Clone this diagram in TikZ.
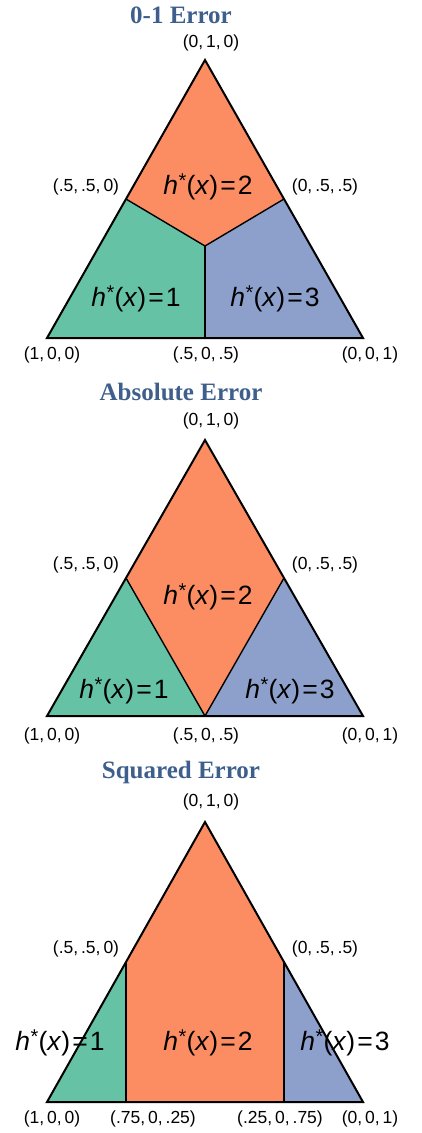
\documentclass[tikz,border=0pt]{standalone}
\usepackage{fontspec}
\setmainfont{Liberation Sans}
\newfontfamily\titlefont{Liberation Serif}
\definecolor{sgreen}{HTML}{66C2A5}
\definecolor{sorange}{HTML}{FC8D62}
\definecolor{sblue}{HTML}{8DA0CB}
\definecolor{ttl}{HTML}{3E5F8C}
\newcommand{\hx}[1]{\textit{h}\hspace{0.02em}\raisebox{0.26em}{\fontsize{20}{20}\selectfont *}\hspace{0.01em}(\textit{x})\hspace{0.08em}=\hspace{0.08em}#1}
\begin{document}
\begin{tikzpicture}[x=1pt,y=-1pt,
  region/.style={draw=black,line width=1.4pt,line join=round},
  outline/.style={draw=black,line width=2pt,line join=miter},
  corner/.style={font=\fontsize{17.5}{18}\selectfont,inner sep=0pt},
  hlab/.style={font=\fontsize{26.5}{27}\selectfont,inner sep=0pt},
  ttlstyle/.style={font=\titlefont\bfseries\fontsize{25}{26}\selectfont,text=ttl,inner sep=0pt}]
\useasboundingbox (0,0) rectangle (422,1133);

% ---------- 0-1 Error ----------
\node[ttlstyle] (t1) at (181,15) {0-1 Error};
\coordinate (A1) at (205,60);
\coordinate (L1) at (47,338);
\coordinate (R1) at (363,338);
\coordinate (ML1) at (126,199);
\coordinate (MR1) at (284,199);
\coordinate (MB1) at (205,338);
\coordinate (C1) at (205,246);
\fill[sorange] (A1) -- (MR1) -- (C1) -- (ML1) -- cycle;
\fill[sgreen] (ML1) -- (C1) -- (MB1) -- (L1) -- cycle;
\fill[sblue] (MR1) -- (C1) -- (MB1) -- (R1) -- cycle;
\draw[region] (ML1) -- (C1) -- (MR1);
\draw[region] (C1) -- (MB1);
\draw[outline] (A1) -- (R1) -- (L1) -- cycle;
\node[corner] (a1) at (211,43) {(0,\,1,\,0)};
\node[corner] (ml1) at (86,187) {(.5,\,.5,\,0)};
\node[corner] (mr1) at (325,187) {(0,\,.5,\,.5)};
\node[corner] (l1) at (52,355) {(1,\,0,\,0)};
\node[corner] (mb1) at (206,355) {(.5,\,0,\,.5)};
\node[corner] (r1) at (370,355) {(0,\,0,\,1)};
\node[hlab] (h12) at (208,187) {\hx{2}};
\node[hlab] (h11) at (136,299) {\hx{1}};
\node[hlab] (h13) at (275,299) {\hx{3}};

% ---------- Absolute Error ----------
\node[ttlstyle] (t2) at (181,392) {Absolute Error};
\coordinate (A2) at (205,440);
\coordinate (L2) at (47,716);
\coordinate (R2) at (363,716);
\coordinate (ML2) at (126,578);
\coordinate (MR2) at (284,578);
\coordinate (MB2) at (205,716);
\fill[sorange] (A2) -- (MR2) -- (MB2) -- (ML2) -- cycle;
\fill[sgreen] (ML2) -- (MB2) -- (L2) -- cycle;
\fill[sblue] (MR2) -- (MB2) -- (R2) -- cycle;
\draw[region] (ML2) -- (MB2) -- (MR2);
\draw[outline] (A2) -- (R2) -- (L2) -- cycle;
\node[corner] (a2) at (211,421) {(0,\,1,\,0)};
\node[corner] (ml2) at (86,565) {(.5,\,.5,\,0)};
\node[corner] (mr2) at (325,565) {(0,\,.5,\,.5)};
\node[corner] (l2) at (52,736) {(1,\,0,\,0)};
\node[corner] (mb2) at (206,736) {(.5,\,0,\,.5)};
\node[corner] (r2) at (370,736) {(0,\,0,\,1)};
\node[hlab] (h22) at (208,597) {\hx{2}};
\node[hlab] (h21) at (124,691) {\hx{1}};
\node[hlab] (h23) at (290,691) {\hx{3}};

% ---------- Squared Error ----------
\node[ttlstyle] (t3) at (181,772) {Squared Error};
\coordinate (A3) at (205,822);
\coordinate (L3) at (47,1102);
\coordinate (R3) at (363,1102);
\coordinate (ML3) at (126,962);
\coordinate (MR3) at (284,962);
\coordinate (BL3) at (126,1102);
\coordinate (BR3) at (284,1102);
\fill[sorange] (A3) -- (MR3) -- (BR3) -- (BL3) -- (ML3) -- cycle;
\fill[sgreen] (ML3) -- (BL3) -- (L3) -- cycle;
\fill[sblue] (MR3) -- (BR3) -- (R3) -- cycle;
\draw[region] (ML3) -- (BL3);
\draw[region] (MR3) -- (BR3);
\draw[outline] (A3) -- (R3) -- (L3) -- cycle;
\node[corner] (a3) at (211,802) {(0,\,1,\,0)};
\node[corner] (ml3) at (86,949) {(.5,\,.5,\,0)};
\node[corner] (mr3) at (325,949) {(0,\,.5,\,.5)};
\node[corner] (l3) at (52,1119) {(1,\,0,\,0)};
\node[corner] (bl3) at (153,1119) {(.75,\,0,\,.25)};
\node[corner] (br3) at (280,1119) {(.25,\,0,\,.75)};
\node[corner] (r3) at (370,1119) {(0,\,0,\,1)};
\node[hlab] (h31) at (60,1043) {\hx{1}};
\node[hlab] (h32) at (208,1043) {\hx{2}};
\node[hlab] (h33) at (345,1043) {\hx{3}};
\end{tikzpicture}
\end{document}
